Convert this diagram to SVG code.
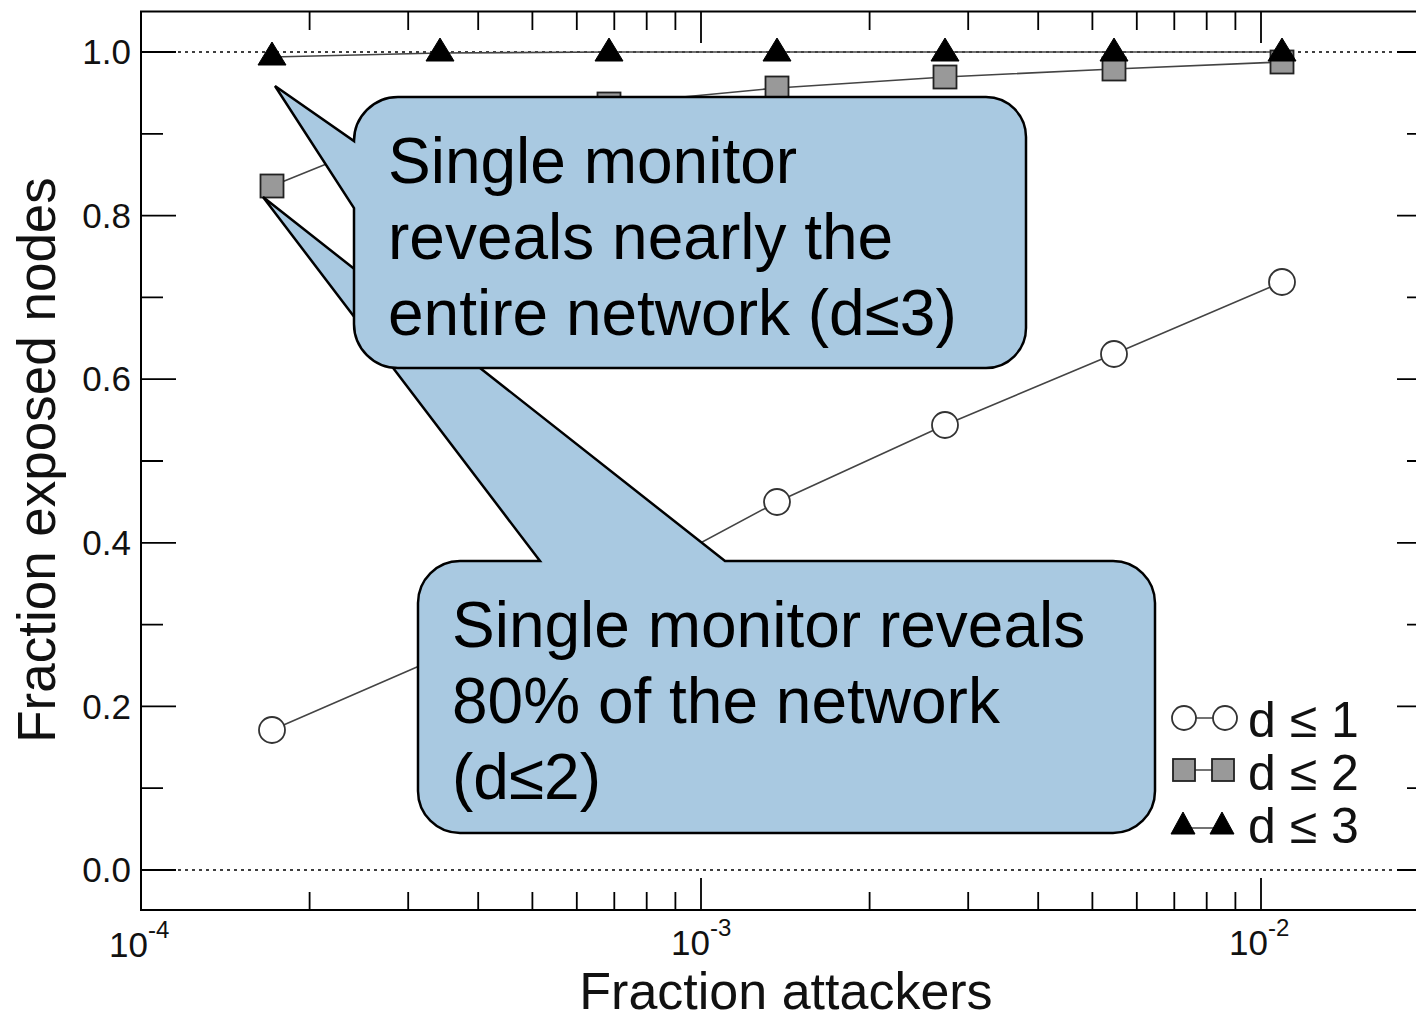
<svg xmlns="http://www.w3.org/2000/svg" width="1416" height="1021" viewBox="0 0 1416 1021">
<defs>
<style>
.ax{stroke:#000;stroke-width:2;fill:none}
.tk{stroke:#000;stroke-width:1.8;fill:none}
.dot{stroke:#000;stroke-width:1.6;stroke-dasharray:3 4;fill:none}
.dl{stroke:#444;stroke-width:1.6;fill:none}
.lbl{font-family:"Liberation Sans",Arial,sans-serif;fill:#111}
.tl{font-size:35px;text-anchor:end}
.xt{font-size:35px;text-anchor:end}
.xs{font-size:24px}
.axl{font-size:53px;text-anchor:middle}
.co{fill:#a9c9e1;stroke:#000;stroke-width:2.5;stroke-linejoin:miter}
.ct{font-family:"Liberation Sans",Arial,sans-serif;font-size:64px;fill:#000}
.cir{fill:#fff;stroke:#333;stroke-width:1.8}
.sq{fill:#999;stroke:#222;stroke-width:1.8}
.tri{fill:#000;stroke:#000;stroke-width:1}
.lg{font-family:"Liberation Sans",Arial,sans-serif;font-size:50px;fill:#111}
</style>
<circle id="mc" r="13" class="cir"/>
<rect id="ms" x="-11.5" y="-11.5" width="23" height="23" class="sq"/>
<polygon id="mt" points="0,-13 -14,10 14,10" class="tri"/>
</defs>

<g id="axes">
<path class="ax" d="M141,11 V911 M140,11.5 H1416 M140,910 H1416"/>
<path class="tk" d="M141,52 H176 M141,215.6 H176 M141,379.2 H176 M141,542.8 H176 M141,706.4 H176 M141,870 H176
M141,133.8 H163 M141,297.4 H163 M141,461 H163 M141,624.6 H163 M141,788.2 H163"/>
<path class="tk" d="M1397,52 H1416 M1397,215.6 H1416 M1397,379.2 H1416 M1397,542.8 H1416 M1397,706.4 H1416 M1397,870 H1416
M1407,133.8 H1416 M1407,297.4 H1416 M1407,461 H1416 M1407,624.6 H1416 M1407,788.2 H1416"/>
<path class="tk" d="M309.6,11 V30 M408.2,11 V30 M478.2,11 V30 M532.4,11 V30 M576.8,11 V30 M614.3,11 V30 M646.7,11 V30 M675.4,11 V30 M701,11 V43
M869.6,11 V30 M968.2,11 V30 M1038.2,11 V30 M1092.4,11 V30 M1136.8,11 V30 M1174.3,11 V30 M1206.7,11 V30 M1235.4,11 V30 M1261,11 V43"/>
<path class="tk" d="M309.6,910 V892 M408.2,910 V892 M478.2,910 V892 M532.4,910 V892 M576.8,910 V892 M614.3,910 V892 M646.7,910 V892 M675.4,910 V892 M701,910 V878
M869.6,910 V892 M968.2,910 V892 M1038.2,910 V892 M1092.4,910 V892 M1136.8,910 V892 M1174.3,910 V892 M1206.7,910 V892 M1235.4,910 V892 M1261,910 V878"/>
<path class="dot" d="M178,52 H1396 M178,870 H1396"/>
</g>

<g id="tick-labels" class="lbl">
<text class="tl" x="131" y="64">1.0</text>
<text class="tl" x="131" y="227.5">0.8</text>
<text class="tl" x="131" y="391">0.6</text>
<text class="tl" x="131" y="555">0.4</text>
<text class="tl" x="131" y="718.5">0.2</text>
<text class="tl" x="131" y="882">0.0</text>
<text class="xt" x="148" y="957">10</text><text class="xs" x="148" y="938">-4</text>
<text class="xt" x="710" y="955">10</text><text class="xs" x="710" y="936">-3</text>
<text class="xt" x="1268" y="955">10</text><text class="xs" x="1268" y="936">-2</text>
<text class="axl" x="786" y="1009" style="font-size:52px">Fraction attackers</text>
<text class="axl" transform="translate(55,460) rotate(-90)">Fraction exposed nodes</text>
</g>

<g id="connectors">
<polyline class="dl" points="272,730 440,657 609,592 777,502 945,425 1114,354 1282,282"/>
<polyline class="dl" points="272,186 440,118 609,104 777,88 945,77 1114,69 1282,62"/>
<polyline class="dl" points="272,57 440,53 609,52 777,52 945,52 1114,52 1282,52"/>
</g>

<g id="series-d1">
<use href="#mc" x="272" y="730"/><use href="#mc" x="440" y="657"/><use href="#mc" x="609" y="592"/>
<use href="#mc" x="777" y="502"/><use href="#mc" x="945" y="425"/><use href="#mc" x="1114" y="354"/><use href="#mc" x="1282" y="282"/>
</g>
<g id="series-d2">
<use href="#ms" x="272" y="186"/><use href="#ms" x="440" y="118"/><use href="#ms" x="609" y="104"/>
<use href="#ms" x="777" y="88"/><use href="#ms" x="945" y="77"/><use href="#ms" x="1114" y="69"/><use href="#ms" x="1282" y="62"/>
</g>
<g id="series-d3">
<use href="#mt" x="272" y="55"/><use href="#mt" x="440" y="51"/><use href="#mt" x="609" y="51"/>
<use href="#mt" x="777" y="51"/><use href="#mt" x="945" y="51"/><use href="#mt" x="1114" y="51"/><use href="#mt" x="1282" y="51"/>
</g>

<g id="callout-d2">
<path class="co" d="M460,561 H540 L263,197 L725,561 H1113 A42,42 0 0 1 1155,603 V791 A42,42 0 0 1 1113,833 H460 A42,42 0 0 1 418,791 V603 A42,42 0 0 1 460,561 Z"/>
<text class="ct" x="452" y="647">Single monitor reveals</text>
<text class="ct" x="452" y="723">80% of the network</text>
<text class="ct" x="452" y="799">(d≤2)</text>
</g>

<g id="callout-d3">
<path class="co" d="M398,97 H986 A40,40 0 0 1 1026,137 V328 A40,40 0 0 1 986,368 H398 A44,44 0 0 1 354,324 V208 L275,86 L354,141 A44,44 0 0 1 398,97 Z"/>
<text class="ct" x="388" y="183">Single monitor</text>
<text class="ct" x="388" y="259">reveals nearly the</text>
<text class="ct" x="388" y="335">entire network (d≤3)</text>
</g>

<g id="legend">
<line class="dl" x1="1184" y1="718" x2="1225" y2="718"/>
<circle class="cir" cx="1184" cy="718" r="12"/><circle class="cir" cx="1225" cy="718" r="12"/>
<text class="lg" x="1248" y="737">d ≤ 1</text>
<line class="dl" x1="1184" y1="770" x2="1222" y2="770"/>
<rect class="sq" x="1173" y="759" width="22" height="22"/><rect class="sq" x="1212" y="759" width="22" height="22"/>
<text class="lg" x="1248" y="790">d ≤ 2</text>
<line class="dl" x1="1183" y1="828" x2="1222" y2="828"/>
<polygon class="tri" points="1183,812 1171,834 1195,834"/><polygon class="tri" points="1222,812 1210,834 1234,834"/>
<text class="lg" x="1248" y="843">d ≤ 3</text>
</g>
</svg>
